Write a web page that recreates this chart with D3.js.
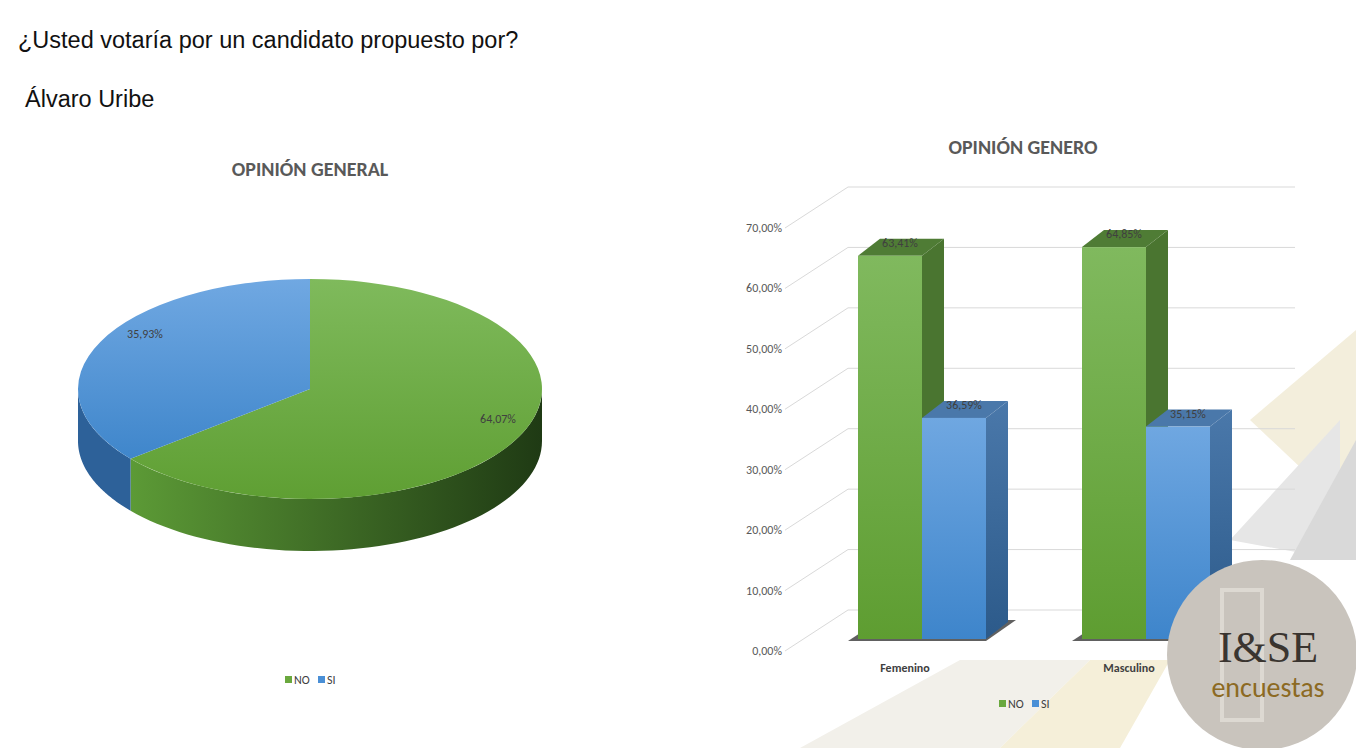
<!DOCTYPE html>
<html><head><meta charset="utf-8">
<script src="https://cdn.jsdelivr.net/npm/d3@7"></script>
<style>body{margin:0;background:#fff;font-family:Calibri,Carlito,"Open Sans",sans-serif}</style>
</head><body>
<svg id="c" width="1356" height="748"></svg>
<script>
const pieLabels = ["NO","SI"];
const pieValues = [64.07, 35.93];
const genders = ["Femenino","Masculino"];
const seriesNames = ["NO","SI"];
const noValues = [63.41, 64.85];
const siValues = [36.59, 35.15];
const yTicks = [0,10,20,30,40,50,60,70];

const svg = d3.select("#c");
const defs = svg.append("defs");
function lg(id, c1, c2, vertical){
  const g = defs.append("linearGradient").attr("id",id);
  if(vertical) g.attr("x1",0).attr("y1",0).attr("x2",0).attr("y2",1);
  g.append("stop").attr("offset","0%").attr("stop-color",c1);
  g.append("stop").attr("offset","100%").attr("stop-color",c2);
}
lg("gTop","#7fba5c","#5f9f33",true);
lg("bTop","#70a8e2","#3f86cb",true);
lg("gWall","#5c9a36","#1f3a14",false);
lg("gFront","#80b95e","#5e9d31",true);
lg("bFront","#6fa7e1","#3e85cb",true);
lg("bSide","#4a78aa","#2c5a8a",true);

const bg = svg.append("g");
bg.append("polygon").attr("points","1356,330 1250,420 1356,520").attr("fill","#f3eedc");
bg.append("polygon").attr("points","1340,420 1230,540 1340,560").attr("fill","#e6e6e6");
bg.append("polygon").attr("points","1356,440 1356,560 1290,560").attr("fill","#d9d9d9");
bg.append("polygon").attr("points","800,748 960,660 1090,660 1000,748").attr("fill","#f2f0ea");
bg.append("polygon").attr("points","1000,748 1090,660 1170,660 1120,748").attr("fill","#f5efd9");

const sans = "'Liberation Sans',Arial,sans-serif";
svg.append("text").attr("x",18).attr("y",48).attr("font-size",23.5).attr("fill","#111").attr("font-family",sans).text("¿Usted votaría por un candidato propuesto por?");
svg.append("text").attr("x",25).attr("y",107).attr("font-size",23.5).attr("fill","#111").attr("font-family",sans).text("Álvaro Uribe");
svg.append("text").attr("x",310).attr("y",176).attr("text-anchor","middle").attr("font-size",20).attr("font-weight","bold").attr("fill","#595959").text("OPINIÓN GENERAL");
svg.append("text").attr("x",1023).attr("y",154).attr("text-anchor","middle").attr("font-size",20).attr("font-weight","bold").attr("fill","#595959").text("OPINIÓN GENERO");

const cx=310, cy=389, rx=232, ry=110, depth=52;
const pie = d3.pie().sort(null)(pieValues);
const pieG = svg.append("g");
function wall(t0,t1,fill){
  const a = Math.max(t0,0), b = Math.min(t1,Math.PI);
  if(b<=a) return;
  const n=60, pts=[];
  for(let i=0;i<=n;i++){const t=a+(b-a)*i/n; pts.push([cx+rx*Math.cos(t), cy+ry*Math.sin(t)]);}
  for(let i=n;i>=0;i--){const t=a+(b-a)*i/n; pts.push([cx+rx*Math.cos(t), cy+ry*Math.sin(t)+depth]);}
  pieG.append("path").attr("d",d3.line()(pts)+"Z").attr("fill",fill);
}
const wallFills = ["url(#gWall)","#2d6199"];
pie.forEach((p,i)=>{
  let t0=p.startAngle-Math.PI/2, t1=p.endAngle-Math.PI/2;
  wall(t0,t1,wallFills[i]);
  wall(t0-2*Math.PI,t1-2*Math.PI,wallFills[i]);
});
const arc = d3.arc().innerRadius(0).outerRadius(rx);
const topFills = ["url(#gTop)","url(#bTop)"];
const topG = pieG.append("g").attr("transform",`translate(${cx},${cy}) scale(1,${ry/rx})`);
topG.selectAll("path").data(pie).join("path").attr("d",arc).attr("fill",(d,i)=>topFills[i]);
const fmt = v => v.toFixed(2).replace(".",",")+"%";
const lblPos = [[498,423],[145,338]];
pie.forEach((p,i)=>{
  pieG.append("text").attr("x",lblPos[i][0]).attr("y",lblPos[i][1]).attr("text-anchor","middle").attr("font-size",12).attr("fill","#404040").text(fmt(pieValues[i]));
});
const legCol = ["#6aa83e","#4a8fd6"];
pieLabels.forEach((l,i)=>{
  const x = 285 + i*33;
  svg.append("rect").attr("x",x).attr("y",676).attr("width",7).attr("height",7).attr("fill",legCol[i]);
  svg.append("text").attr("x",x+9).attr("y",684).attr("font-size",12).attr("fill","#404040").text(l);
});

const y = d3.scaleLinear().domain([0,70]).range([651,228]);
const dx=55, dy=-41;
const gridX0=795;
const grid = svg.append("g");
yTicks.forEach(t=>{
  const yy=y(t);
  grid.append("path").attr("d",`M${gridX0-10},${yy}L${gridX0+dx-2},${yy+dy}L1295,${yy+dy}`).attr("fill","none").attr("stroke","#d9d9d9").attr("stroke-width",1);
  grid.append("text").attr("x",782).attr("y",yy+4).attr("text-anchor","end").attr("font-size",12).attr("fill","#595959").text(t.toFixed(2).replace(".",",")+"%");
});

const x = d3.scalePoint().domain(genders).range([922,1146]);
const bw=64, bdx=22, bdy=-17, base=12;
const yb = v => y(v)-base;
const bars = svg.append("g");
genders.forEach((g,gi)=>{
  const cxg = x(g);
  bars.append("polygon").attr("points",`${cxg-bw-10},${yb(0)+2} ${cxg+bw},${yb(0)+2} ${cxg+bw+bdx+8},${yb(0)+bdy-2} ${cxg-bw+bdx},${yb(0)+bdy-2}`).attr("fill","#2b2b2b").attr("opacity",0.75);
  [[noValues[gi],"url(#gFront)","#4f7c35","#4a7530",cxg-bw],[siValues[gi],"url(#bFront)","#4a78aa","url(#bSide)",cxg]].forEach(([v,ff,tf,sf,x0])=>{
    const t=yb(v), b=yb(0);
    bars.append("polygon").attr("points",`${x0+bw},${t} ${x0+bw+bdx},${t+bdy} ${x0+bw+bdx},${b+bdy} ${x0+bw},${b}`).attr("fill",sf);
    bars.append("polygon").attr("points",`${x0},${t} ${x0+bdx},${t+bdy} ${x0+bw+bdx},${t+bdy} ${x0+bw},${t}`).attr("fill",tf);
    bars.append("rect").attr("x",x0).attr("y",t).attr("width",bw).attr("height",b-t).attr("fill",ff);
    bars.append("text").attr("x",x0+bw/2+10).attr("y",t+bdy+8).attr("text-anchor","middle").attr("font-size",12).attr("fill","#404040").text(fmt(v));
  });
  svg.append("text").attr("x",cxg-17).attr("y",672).attr("text-anchor","middle").attr("font-size",12).attr("font-weight","bold").attr("fill","#404040").text(g);
});
seriesNames.forEach((l,i)=>{
  const xx = 999 + i*33;
  svg.append("rect").attr("x",xx).attr("y",700).attr("width",7).attr("height",7).attr("fill",legCol[i]);
  svg.append("text").attr("x",xx+9).attr("y",708).attr("font-size",12).attr("fill","#404040").text(l);
});

const logo = svg.append("g");
logo.append("circle").attr("cx",1262).attr("cy",655).attr("r",95).attr("fill","#c9c4bd");
logo.append("rect").attr("x",1222).attr("y",590).attr("width",40).attr("height",130).attr("fill","none").attr("stroke","#ddd9d2").attr("stroke-width",4);
logo.append("text").attr("x",1268).attr("y",662).attr("text-anchor","middle").attr("font-size",44).attr("fill","#3a3530").attr("font-family","'Liberation Serif',serif").text("I&SE");
logo.append("text").attr("x",1268).attr("y",697).attr("text-anchor","middle").attr("font-size",28).attr("fill","#8c6a23").text("encuestas");
</script>
</body></html>
